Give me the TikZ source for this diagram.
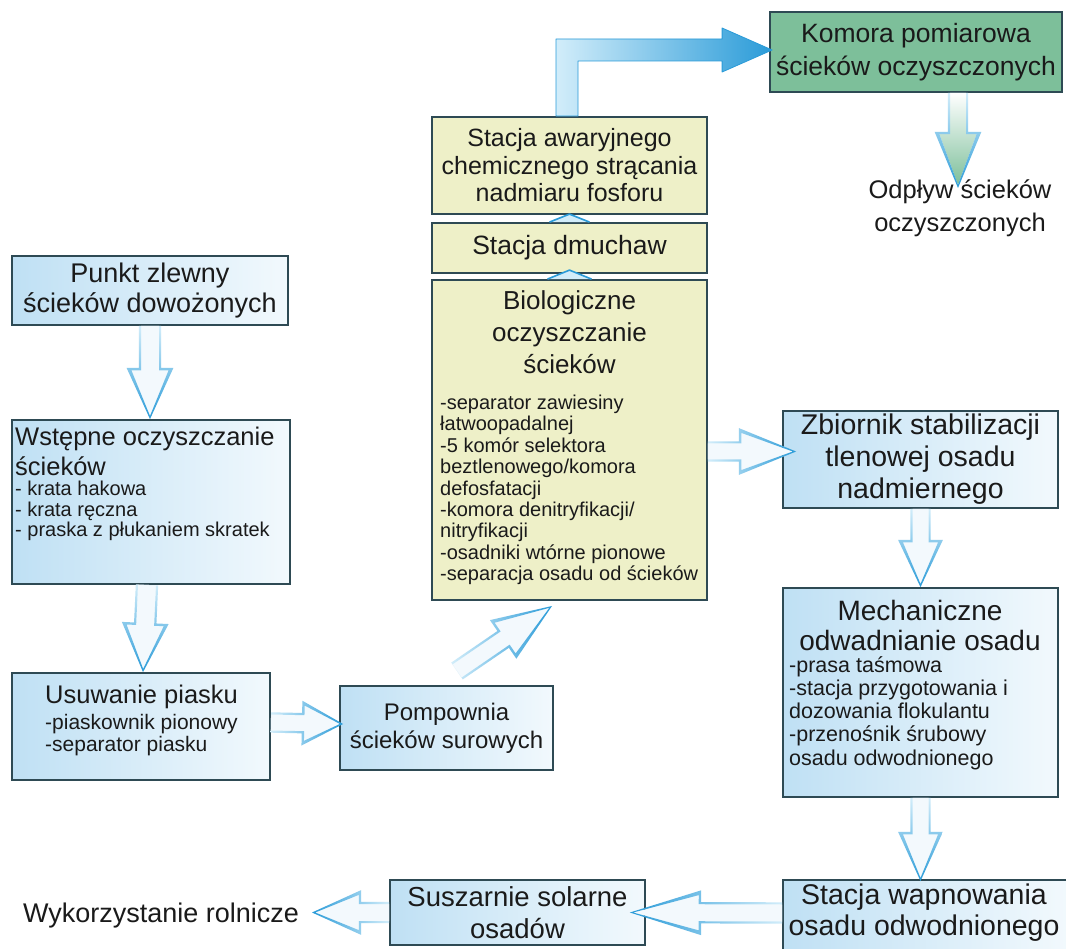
\documentclass[tikz,border=0pt]{standalone}
\usepackage{fontspec}
\setmainfont{Liberation Sans}
\usetikzlibrary{calc}
\definecolor{boxline}{HTML}{2E4A54}
\definecolor{bl1}{HTML}{BFE0F4}
\definecolor{bl2}{HTML}{F2F9FD}
\definecolor{yel}{HTML}{EEF0C8}
\definecolor{grn}{HTML}{7DBF9A}
\definecolor{arr}{HTML}{2A9BD8}
\definecolor{arrlight}{HTML}{D2EDFA}
\definecolor{arrin}{HTML}{F3F9FD}
\definecolor{textc}{HTML}{1A1A1A}
\newcommand{\fs}[2]{\fontsize{#1}{#2}\selectfont}
% hollow block arrow: #1 ring shading, #2 inner fill, #3 tail, #4 tip, #5 shaft half width, #6 head half width, #7 head length
\newcommand{\harrow}[7]{%
 \path (#3) coordinate (hA) (#4) coordinate (hB);
 \path ($(hB)!#7!(hA)$) coordinate (hC);
 \path ($(hC)!1.2pt!(hA)$) coordinate (hCo) ($(hC)!1.2pt!(hB)$) coordinate (hCi) ($(hB)!3.2pt!(hA)$) coordinate (hBi);
 \path[#2] ($(hA)!#5-1pt!90:(hB)$) -- ($(hCi)!#5-1pt!90:(hB)$) -- ($(hCi)!#6-2.4pt!90:(hB)$) -- (hBi) -- ($(hCi)!#6-2.4pt!-90:(hB)$) -- ($(hCi)!#5-1pt!-90:(hB)$) -- ($(hA)!#5-1pt!-90:(hB)$) -- cycle;
 \path[#1, even odd rule] ($(hA)!#5+1.2pt!90:(hB)$) -- ($(hCo)!#5+1.2pt!90:(hB)$) -- ($(hCo)!#6+2.4pt!90:(hB)$) -- (hB) -- ($(hCo)!#6+2.4pt!-90:(hB)$) -- ($(hCo)!#5+1.2pt!-90:(hB)$) -- ($(hA)!#5+1.2pt!-90:(hB)$) -- cycle
   ($(hA)!#5-1pt!90:(hB)$) -- ($(hCi)!#5-1pt!90:(hB)$) -- ($(hCi)!#6-2.4pt!90:(hB)$) -- (hBi) -- ($(hCi)!#6-2.4pt!-90:(hB)$) -- ($(hCi)!#5-1pt!-90:(hB)$) -- ($(hA)!#5-1pt!-90:(hB)$) -- cycle;
}
\begin{document}
\begin{tikzpicture}[x=1pt,y=-1pt,
  box/.style={draw=boxline, line width=1.8pt, inner sep=0pt, align=center, text=textc},
  bluebox/.style={box, left color=bl1, right color=bl2},
  yelbox/.style={box, fill=yel},
  grnbox/.style={box, fill=grn},
  txt/.style={inner sep=0pt, text=textc},
  down/.style={top color=arrlight, bottom color=arr},
  right/.style={left color=arrlight, right color=arr},
  leftw/.style={left color=arr, right color=arrlight},
  inner/.style={fill=arrin},
  caret/.style={fill=arrlight, draw=arr, line width=1.6pt, line join=round}
]
\clip (0,0) rectangle (1066,949);
\fill[white] (0,0) rectangle (1066,949);

% boxes
\node[grnbox, minimum width=292pt, minimum height=80pt, font={\fs{26.5}{33}}] (komora) at (916,52) {Komora pomiarowa\\ścieków oczyszczonych};
\node[txt, align=center, font={\fs{25.5}{33}}] (odplyw) at (960,208) {Odpływ ścieków\\oczyszczonych};
\node[yelbox, minimum width=275pt, minimum height=97pt, font={\fs{25}{27.5}}] (awar) at (569.5,165.5) {Stacja awaryjnego\\chemicznego strącania\\nadmiaru fosforu};
\node[yelbox, minimum width=275pt, minimum height=50pt, font={\fs{26.5}{27}}] (dmuch) at (569.5,248) {Stacja dmuchaw};
\node[yelbox, minimum width=275pt, minimum height=320pt] (bio) at (569.5,440) {};
\node[txt, align=center, font={\fs{26}{32}}] (bioT) at (569.5,332) {Biologiczne\\oczyszczanie\\ścieków};
\node[txt, anchor=west, align=left, font={\fs{20}{21.4}}] (bioS) at (440,490) {-separator zawiesiny\\łatwoopadalnej\\-5 komór selektora\\beztlenowego/komora\\defosfatacji\\-komora denitryfikacji/\\nitryfikacji\\-osadniki wtórne pionowe\\-separacja osadu od ścieków};

\node[bluebox, minimum width=276pt, minimum height=69pt, font={\fs{27}{30}}] (punkt) at (150,290.5) {Punkt zlewny\\ścieków dowożonych};
\node[bluebox, minimum width=278pt, minimum height=164pt] (wstep) at (151,502) {};
\node[txt, anchor=west, align=left, font={\fs{25.5}{30}}] (wstepT) at (15,451) {Wstępne oczyszczanie\\ścieków};
\node[txt, anchor=west, align=left, font={\fs{20}{20.5}}] (wstepS) at (15,511) {- krata hakowa\\- krata ręczna\\- praska z płukaniem skratek};

\node[bluebox, minimum width=258pt, minimum height=107pt] (usuw) at (141,726.5) {};
\node[txt, anchor=west, font={\fs{25.5}{30}}] (usuwT) at (45,697) {Usuwanie piasku};
\node[txt, anchor=west, align=left, font={\fs{21}{22}}] (usuwS) at (45,735) {-piaskownik pionowy\\-separator piasku};

\node[bluebox, minimum width=213pt, minimum height=84pt, font={\fs{24}{28}}] (pomp) at (446.5,728) {Pompownia\\ścieków surowych};

\node[bluebox, minimum width=275pt, minimum height=97pt, font={\fs{28.5}{32}}] (zbior) at (920.5,459.5) {Zbiornik stabilizacji\\tlenowej osadu\\nadmiernego};
\node[bluebox, minimum width=275pt, minimum height=209pt] (mech) at (920.5,692.5) {};
\node[txt, align=center, font={\fs{28}{30}}] (mechT) at (920,625) {Mechaniczne\\odwadnianie osadu};
\node[txt, anchor=west, align=left, font={\fs{21.5}{23.2}}] (mechS) at (789,713) {-prasa taśmowa\\-stacja przygotowania i\\dozowania flokulantu\\-przenośnik śrubowy\\osadu odwodnionego};

\node[bluebox, minimum width=285pt, minimum height=78pt] (wapn) at (925.5,919) {};
\node[txt, align=center, font={\fs{28.5}{31}}] (wapnT) at (924,912.5) {Stacja wapnowania\\osadu odwodnionego};
\node[bluebox, minimum width=255pt, minimum height=65pt, font={\fs{27.5}{32}}] (susz) at (517.5,912.5) {Suszarnie solarne\\osadów};
\node[txt, font={\fs{27}{29}}] (wyk) at (161,916) {Wykorzystanie rolnicze};

% connectors
\coordinate (dtail) at (457,671);
\coordinate (dtip) at (552,606);
\coordinate (mtip) at (958,188);
\coordinate (itip) at (312,912.5);

\harrow{down}{inner}{punkt.south}{wstep.north -| punkt.south}{10pt}{21pt}{50pt}
\harrow{down}{inner}{$(wstep.south)+(-4,0)$}{$(usuw.north)+(2,0)$}{10pt}{21pt}{48pt}
\harrow{right}{inner}{$(usuw.east)+(0,-4)$}{$(pomp.west)+(4,-4)$}{9pt}{20pt}{40pt}
\harrow{right}{inner}{dtail}{dtip}{9pt}{21pt}{58pt}
\harrow{right}{inner}{$(bio.east |- zbior.west)+(0,-8)$}{$(zbior.west)+(14,-8)$}{9pt}{21pt}{56pt}
\harrow{down}{inner}{zbior.south}{mech.north}{9pt}{20pt}{46pt}
\harrow{down}{inner}{mech.south}{$(wapn.north -| mech.south)+(0,2)$}{9pt}{20pt}{48pt}
\harrow{leftw}{inner}{$(wapn.west)+(0,-6)$}{$(susz.east)+(-16,0)$}{9.5pt}{20pt}{70pt}
\harrow{leftw}{inner}{susz.west}{itip}{9.5pt}{20pt}{48pt}
\harrow{down}{top color=white, bottom color=grn}{komora.south -| mtip}{mtip}{9pt}{21pt}{55pt}

% elbow arrow
\path[left color=arrlight, right color=arr, draw=arr, line width=0.8pt, line join=round]
  let \p1=(awar.north), \p2=($(komora.west)+(0,-2)$) in
  (\x1-13.5pt,\y1) -- (\x1-13.5pt,\y2+11pt) -- (\x2-47pt,\y2+11pt) -- (\x2-47pt,\y2+22pt)
  -- (\x2+3pt,\y2) -- (\x2-47pt,\y2-22pt) -- (\x2-47pt,\y2-11pt) -- (\x1+8.5pt,\y2-11pt)
  -- (\x1+8.5pt,\y1) -- cycle;

% small carets
\path[caret] ($(bio.north)+(-22,0)$) -- ($(bio.north)+(0,-9)$) -- ($(bio.north)+(22,0)$);
\path[caret] ($(dmuch.north)+(-20,0)$) -- ($(dmuch.north)+(0,-8)$) -- ($(dmuch.north)+(20,0)$);
\end{tikzpicture}
\end{document}
